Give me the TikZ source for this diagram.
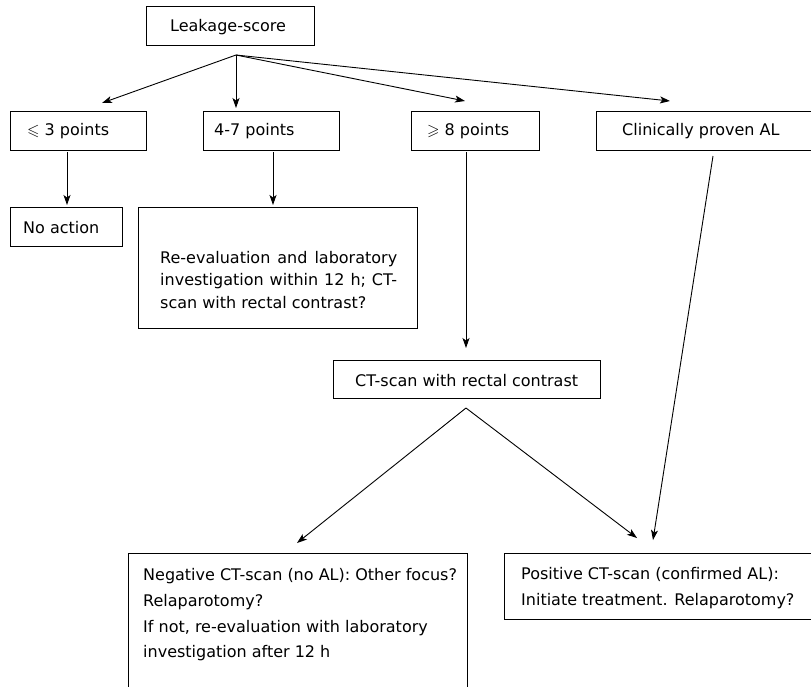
\documentclass[tikz,border=0pt]{standalone}
\usepackage{fontspec}
\usepackage{amssymb}
\setmainfont{DejaVu Sans}
\usetikzlibrary{arrows.meta}
\begin{document}
\begin{tikzpicture}[x=1pt,y=-1pt,
  box/.style={draw, line width=0.9pt, inner sep=0pt, anchor=north west},
  txt/.style={inner sep=0pt, anchor=base west, font=\fontsize{16}{20}\selectfont},
  arr/.style={line width=0.9pt, -{Stealth[length=10pt,width=7pt,inset=2.5pt]}}]
\useasboundingbox (0,0) rectangle (811,686);

% boxes
\node[box, minimum width=168pt, minimum height=39pt] (leak) at (146,6) {};
\node[box, minimum width=136pt, minimum height=39pt] (le3) at (10,111) {};
\node[box, minimum width=136pt, minimum height=39pt] (p47) at (203,111) {};
\node[box, minimum width=128pt, minimum height=39pt] (ge8) at (411,111) {};
\node[box, minimum width=260pt, minimum height=39pt] (clin) at (596,111) {};
\node[box, minimum width=112pt, minimum height=39pt] (noact) at (10,207) {};
\node[box, minimum width=279pt, minimum height=121pt] (reeval) at (138,207) {};
\node[box, minimum width=267pt, minimum height=38pt] (ct) at (333,360) {};
\node[box, minimum width=339pt, minimum height=160pt] (neg) at (128,553) {};
\node[box, minimum width=360pt, minimum height=66pt] (pos) at (504,553) {};

% texts
\node[txt] (leakT) at (170,31) {Leakage-score};
\node[txt] (le3T) at (27,135) {$\leqslant$ 3 points};
\node[txt] (p47T) at (214,135) {4-7 points};
\node[txt] (ge8T) at (427,135) {$\geqslant$ 8 points};
\node[txt] (clinT) at (622,135) {Clinically proven AL};
\node[txt] (noactT) at (23,233) {No action};
\node[txt] (r1) at (160,263) {\hbox to 237pt{Re-evaluation\hfill and\hfill laboratory}};
\node[txt] (r2) at (160,285.5) {\hbox to 237pt{investigation\hfill within\hfill 12\hfill h;\hfill CT-}};
\node[txt] (r3) at (160,308) {scan with rectal contrast?};
\node[txt] (ctT) at (355,386) {CT-scan with rectal contrast};
\node[txt] (n1) at (143,580) {Negative CT-scan (no AL): Other focus?};
\node[txt] (n2) at (143,606) {Relaparotomy?};
\node[txt] (n3) at (143,632) {If not, re-evaluation with laboratory};
\node[txt] (n4) at (143,657) {investigation after 12 h};
\node[txt] (p1) at (521,579) {Positive CT-scan (confirmed AL):};
\node[txt] (p2) at (521,605) {Initiate treatment. Relaparotomy?};

% connector points
\coordinate (lsrc) at (236,55);
\coordinate (tle3) at (102,103);
\coordinate (tp47) at (236,108);
\coordinate (tge8) at (465,101);
\coordinate (tclin) at (670,101);
\coordinate (s1) at (67,152);
\coordinate (e1) at (67,205);
\coordinate (s2) at (273,152);
\coordinate (e2) at (273,205);
\coordinate (s3) at (466,152);
\coordinate (e3) at (466,348);
\coordinate (apex) at (466,408);
\coordinate (tneg) at (297,543);
\coordinate (tpos) at (637,538);
\coordinate (s4) at (713,156);
\coordinate (e4) at (653,540);

\draw[arr] (lsrc) -- (tle3);
\draw[arr] (lsrc) -- (tp47);
\draw[arr] (lsrc) -- (tge8);
\draw[arr] (lsrc) -- (tclin);
\draw[arr] (s1) -- (e1);
\draw[arr] (s2) -- (e2);
\draw[arr] (s3) -- (e3);
\draw[arr] (apex) -- (tneg);
\draw[arr] (apex) -- (tpos);
\draw[arr] (s4) -- (e4);
\end{tikzpicture}
\end{document}
